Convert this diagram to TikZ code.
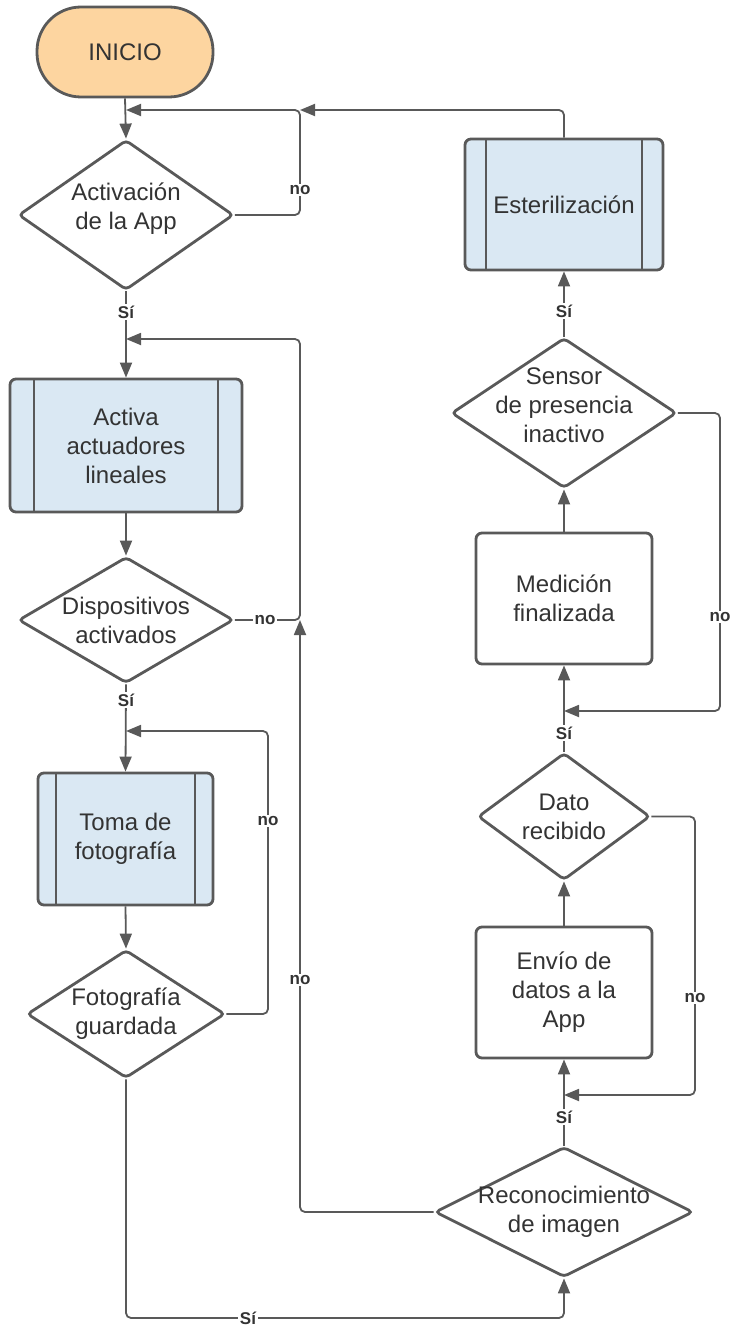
\documentclass[tikz,border=0pt]{standalone}
\usepackage{fontspec}
\setmainfont{Liberation Sans}
\usetikzlibrary{shapes.geometric,arrows.meta}
\definecolor{lc}{HTML}{595959}
\definecolor{txtc}{HTML}{333333}
\definecolor{procfill}{HTML}{DAE8F3}
\definecolor{startfill}{HTML}{FDD5A0}
\newcommand\bodyfs{\fontsize{24}{29}\selectfont}
\newcommand\lblfs{\bfseries\fontsize{17}{20}\selectfont}
\begin{document}
\begin{tikzpicture}[x=1pt,y=-1pt,
  base/.style={draw=lc, line width=2.8pt, font=\bodyfs, text=txtc, align=center, inner sep=0pt},
  startbox/.style={base, rectangle, rounded corners=44pt, fill=startfill, minimum width=176pt, minimum height=90pt},
  decision/.style={base, diamond, rounded corners=4pt, fill=white},
  dtext/.style={font=\bodyfs, text=txtc, align=center, inner sep=0pt},
  procbox/.style={base, rectangle, rounded corners=6pt, fill=white},
  subproc/.style={procbox, fill=procfill, path picture={
      \draw[lc, line width=2.6pt]
        ([xshift=#1]path picture bounding box.north west) -- ([xshift=#1]path picture bounding box.south west)
        ([xshift=-#1]path picture bounding box.north east) -- ([xshift=-#1]path picture bounding box.south east);}},
  arr/.style={draw=lc, line width=1.8pt, rounded corners=5pt, -{Triangle[length=15pt,width=12pt]}},
  lbl/.style={fill=white, font=\lblfs, text=txtc, inner sep=1.5pt}
]
\useasboundingbox (0,0) rectangle (730,1327);

% left column
\node[startbox] (inicio) at (125,52) {INICIO};
\node[decision, minimum width=215pt, minimum height=150pt,
      label={[dtext,yshift=6pt]center:Activación\\de la App}] (d1) at (126,215) {};
\node[subproc=24pt, minimum width=232pt, minimum height=133pt] (b1) at (126,445.5) {Activa\\actuadores\\lineales};
\node[decision, minimum width=215pt, minimum height=126pt,
      label={[dtext]center:Dispositivos\\activados}] (d2) at (126,620) {};
\node[subproc=18pt, minimum width=175pt, minimum height=132pt] (b2) at (125.5,839) {Toma de\\fotografía};
\node[decision, minimum width=198pt, minimum height=128pt,
      label={[dtext]center:Fotografía\\guardada}] (d3) at (126,1014) {};

% right column
\node[decision, minimum width=258pt, minimum height=130pt,
      label={[dtext]center:Reconocimiento\\de imagen}] (d4) at (564,1212) {};
\node[procbox, minimum width=176pt, minimum height=131pt] (b3) at (564,992.5) {Envío de\\datos a la\\App};
\node[decision, minimum width=172pt, minimum height=127pt,
      label={[dtext]center:Dato\\recibido}] (d5) at (564,816.5) {};
\node[procbox, minimum width=176pt, minimum height=131pt] (b4) at (564,598.5) {Medición\\finalizada};
\node[decision, minimum width=225pt, minimum height=150pt,
      label={[dtext,yshift=8pt]center:Sensor\\de presencia\\inactivo}] (d6) at (564,413) {};
\node[subproc=21pt, minimum width=198pt, minimum height=131pt] (b5) at (564,204.5) {Esterilización};

% junction points of the loops
\coordinate (j1) at (126,110);  \coordinate (r1) at (300,110);
\coordinate (j2) at (126,339);  \coordinate (r2) at (300,339);
\coordinate (j3) at (126,731);  \coordinate (r3) at (268,731);
\coordinate (c4) at (126,1318); \coordinate (j4) at (300,620);
\coordinate (j5) at (564,1095); \coordinate (r5) at (695,1095);
\coordinate (j6) at (564,711);  \coordinate (r6) at (720,711);

% connectors
\draw[arr] (inicio.south) -- (d1.north);
\draw[arr] (d1.east) -| (r1) -- (j1);
\draw[arr] (b5.north) |- (r1);
\draw[arr] (d1.south) -- (b1.north);
\draw[arr] (b1.south) -- (d2.north);
\draw[arr] (d2.east) -| (r2) -- (j2);
\draw[arr] (d2.south) -- (b2.north);
\draw[arr] (b2.south) -- (d3.north);
\draw[arr] (d3.east) -| (r3) -- (j3);
\draw[arr] (d3.south) -- (c4) -| (d4.south);
\draw[arr] (d4.west) -| (j4);
\draw[arr] (d4.north) -- (b3.south);
\draw[arr] (b3.north) -- (d5.south);
\draw[arr] (d5.east) -| (r5) -- (j5);
\draw[arr] (d5.north) -- (b4.south);
\draw[arr] (b4.north) -- (d6.south);
\draw[arr] (d6.east) -| (r6) -- (j6);
\draw[arr] (d6.north) -- (b5.south);

% branch labels
\node[lbl] (no1) at (300,190) {no};
\node[lbl] (si1) at (126,312) {Sí};
\node[lbl] (no2) at (265,620) {no};
\node[lbl] (si2) at (126,700) {Sí};
\node[lbl] (no3) at (268,821) {no};
\node[lbl] (si3) at (248,1318) {Sí};
\node[lbl] (no4) at (300,980) {no};
\node[lbl] (si4) at (564,1117) {Sí};
\node[lbl] (no5) at (695,998) {no};
\node[lbl] (si5) at (564,733) {Sí};
\node[lbl] (no6) at (720,617) {no};
\node[lbl] (si6) at (564,311) {Sí};
\end{tikzpicture}
\end{document}
